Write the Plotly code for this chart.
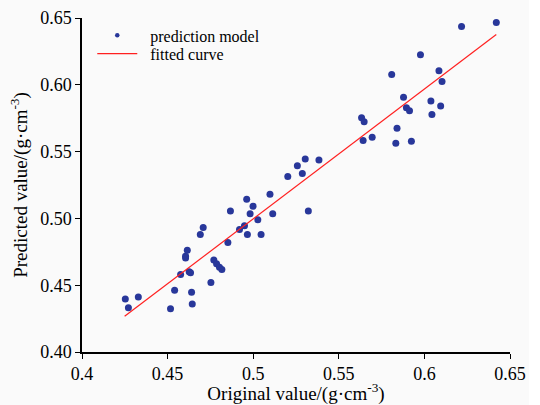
import plotly.graph_objects as go

orig = [0.4253, 0.4271, 0.4329, 0.4517, 0.4541, 0.4576, 0.4605, 0.4605, 0.4615, 0.4626,
        0.4634, 0.4640, 0.4644, 0.4691, 0.4708, 0.4753, 0.4770, 0.4786, 0.4803, 0.4817,
        0.4852, 0.4867, 0.4920, 0.4949, 0.4966, 0.4982, 0.4999, 0.5027, 0.4962, 0.5046,
        0.5098, 0.5114, 0.5202, 0.5258, 0.5287, 0.5304, 0.5322, 0.5384, 0.5633, 0.5648,
        0.5642, 0.5695, 0.5833, 0.5840, 0.5924, 0.5809, 0.5878, 0.5895, 0.5913, 0.5977,
        0.6038, 0.6044, 0.6085, 0.6095, 0.6103, 0.6217, 0.6420]
pred = [0.4396, 0.4331, 0.4411, 0.4324, 0.4463, 0.4581, 0.4717, 0.4703, 0.4762, 0.4600,
        0.4593, 0.4448, 0.4359, 0.4880, 0.4932, 0.4521, 0.4688, 0.4660, 0.4635, 0.4618,
        0.4820, 0.5056, 0.4917, 0.4945, 0.4880, 0.5034, 0.5091, 0.4989, 0.5143, 0.4880,
        0.5181, 0.5034, 0.5313, 0.5395, 0.5336, 0.5445, 0.5056, 0.5437, 0.5754, 0.5724,
        0.5584, 0.5607, 0.5562, 0.5674, 0.5577, 0.6078, 0.5906, 0.5829, 0.5806, 0.6225,
        0.5878, 0.5777, 0.6105, 0.5841, 0.6025, 0.6436, 0.6466]

fit_x = [0.4249, 0.6420]
fit_y = [0.4267, 0.6377]

x_ticks = [0.4, 0.45, 0.5, 0.55, 0.6, 0.65]
x_tick_labels = ["0.4", "0.45", "0.5", "0.55", "0.6", "0.65"]
y_ticks = [0.40, 0.45, 0.50, 0.55, 0.60, 0.65]
y_tick_labels = ["0.40", "0.45", "0.50", "0.55", "0.60", "0.65"]

FONT = "Liberation Serif"
DOT = "#28379a"

fig = go.Figure()
# data points (legend entry drawn by a small legend-only marker, as in the original)
fig.add_trace(go.Scatter(
    x=orig, y=pred, mode="markers", name="prediction model", showlegend=False,
    marker=dict(color=DOT, size=7, line=dict(width=0)),
))
fig.add_trace(go.Scatter(
    x=[None], y=[None], mode="markers", name="&nbsp;&nbsp;prediction model",
    marker=dict(color=DOT, size=4.5, line=dict(width=0)),
    legend="legend",
))
fig.add_trace(go.Scatter(
    x=fit_x, y=fit_y, mode="lines", name="&nbsp; fitted curve",
    line=dict(color="#ff2020", width=1.2),
    legend="legend2",
))

leg_common = dict(
    x=0.024, xanchor="left", yanchor="middle",
    bgcolor="rgba(0,0,0,0)", font=dict(family=FONT, size=16),
    itemwidth=40,
)

fig.update_layout(
    width=529, height=405,
    margin=dict(l=81.5, r=18.5, t=17.5, b=53, autoexpand=False),
    paper_bgcolor="#fafafa", plot_bgcolor="#fafafa",
    font=dict(family=FONT, size=18, color="black"),
    showlegend=True,
    legend=dict(y=0.948, **leg_common),
    legend2=dict(y=0.893, **leg_common),
    xaxis=dict(
        range=[0.4, 0.65], tickvals=x_ticks, ticktext=x_tick_labels,
        automargin=False,
        showgrid=False, zeroline=False, showline=True, linecolor="black", linewidth=1.5,
        ticks="outside", ticklen=5, tickwidth=1.2, tickcolor="black",
        tickfont=dict(family=FONT, size=18, color="black"),
        title=dict(text="Original value/(g·cm<sup>-3</sup>)", font=dict(family=FONT, size=19), standoff=4),
    ),
    yaxis=dict(
        range=[0.40, 0.65], tickvals=y_ticks, ticktext=y_tick_labels,
        automargin=False,
        showgrid=False, zeroline=False, showline=True, linecolor="black", linewidth=1.5,
        ticks="outside", ticklen=5, tickwidth=1.2, tickcolor="black",
        tickfont=dict(family=FONT, size=18, color="black"),
        title=dict(text="Predicted value/(g·cm<sup>-3</sup>)", font=dict(family=FONT, size=19), standoff=8),
    ),
)

fig.write_html(
    "out.html",
    config={"displayModeBar": False},
    post_script="document.body.style.margin='0';document.body.style.background='#ffffff';",
)
